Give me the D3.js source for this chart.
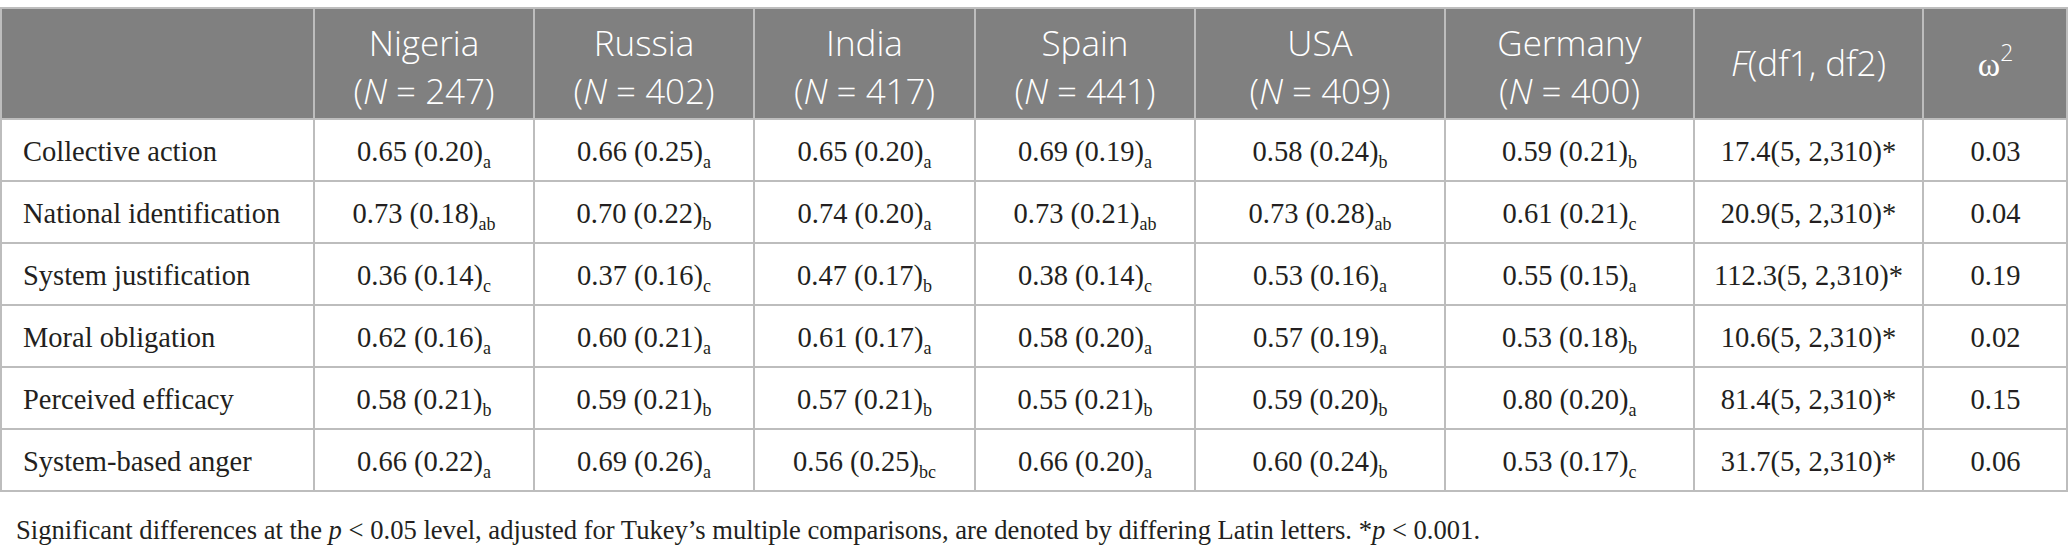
<!DOCTYPE html>
<html>
<head>
<meta charset="utf-8">
<script src="https://cdn.jsdelivr.net/npm/d3@7/dist/d3.min.js"></script>
<style>
  body { margin: 0; background: #fff; }
</style>
</head>
<body>
<div id="chart-area"></div>
<script>
// Table values
var measures = ['Collective action', 'National identification', 'System justification',
  'Moral obligation', 'Perceived efficacy', 'System-based anger'];
var countries = ['Nigeria', 'Russia', 'India', 'Spain', 'USA', 'Germany'];
var sampleSizes = [247, 402, 417, 441, 409, 400];

var means = [
  [0.65, 0.66, 0.65, 0.69, 0.58, 0.59],
  [0.73, 0.70, 0.74, 0.73, 0.73, 0.61],
  [0.36, 0.37, 0.47, 0.38, 0.53, 0.55],
  [0.62, 0.60, 0.61, 0.58, 0.57, 0.53],
  [0.58, 0.59, 0.57, 0.55, 0.59, 0.80],
  [0.66, 0.69, 0.56, 0.66, 0.60, 0.53]
];
var sds = [
  [0.20, 0.25, 0.20, 0.19, 0.24, 0.21],
  [0.18, 0.22, 0.20, 0.21, 0.28, 0.21],
  [0.14, 0.16, 0.17, 0.14, 0.16, 0.15],
  [0.16, 0.21, 0.17, 0.20, 0.19, 0.18],
  [0.21, 0.21, 0.21, 0.21, 0.20, 0.20],
  [0.22, 0.26, 0.25, 0.20, 0.24, 0.17]
];
var letters = [
  ['a', 'a', 'a', 'a', 'b', 'b'],
  ['ab', 'b', 'a', 'ab', 'ab', 'c'],
  ['c', 'c', 'b', 'c', 'a', 'a'],
  ['a', 'a', 'a', 'a', 'a', 'b'],
  ['b', 'b', 'b', 'b', 'b', 'a'],
  ['a', 'a', 'bc', 'a', 'b', 'c']
];
var fValues = [17.4, 20.9, 112.3, 10.6, 81.4, 31.7];
var dfLabel = '(5, 2,310)*';
var omegaSq = [0.03, 0.04, 0.19, 0.02, 0.15, 0.06];

// Layout
var width = 2069;
var height = 550;
var headerTop = 8;
var headerBottom = 119;
var tableBottom = 491;

var colKeys = ['label'].concat(countries, ['F', 'omega']);
var colWidths = [314, 220, 220, 221, 220, 250, 249, 229, 145];
var colStarts = [0].concat(Array.from(d3.cumsum(colWidths)).slice(0, -1));
var tableRight = d3.sum(colWidths);

var x = d3.scaleOrdinal().domain(colKeys).range(colStarts);
var w = d3.scaleOrdinal().domain(colKeys).range(colWidths);
function cx(k) { return x(k) + w(k) / 2; }

var y = d3.scaleBand()
  .domain(measures)
  .range([headerBottom, tableBottom]);

var f2 = d3.format('.2f');
var f1 = d3.format('.1f');

var serif = '"Liberation Serif", "Times New Roman", serif';
var sans = '"Open Sans", "Noto Sans", sans-serif';
var gridColor = '#bdbdbd';
var ink = '#231f20';

var svg = d3.select('#chart-area')
  .append('svg')
  .attr('width', width)
  .attr('height', height);

// Header background
svg.append('rect')
  .attr('x', 1)
  .attr('y', headerTop)
  .attr('width', tableRight - 1)
  .attr('height', headerBottom - headerTop)
  .attr('fill', '#808080');

// Horizontal lines
var hLines = [headerTop, headerBottom].concat(measures.map(function(m) {
  return y(m) + y.bandwidth();
}));
svg.selectAll('line.h')
  .data(hLines)
  .enter()
  .append('line')
    .attr('class', 'h')
    .attr('x1', 0)
    .attr('x2', tableRight)
    .attr('y1', function(d) { return d; })
    .attr('y2', function(d) { return d; })
    .attr('stroke', gridColor)
    .attr('stroke-width', 2);

// Vertical lines
var vLines = colStarts.slice(1).concat([tableRight - 1, 1]);
svg.selectAll('line.v')
  .data(vLines)
  .enter()
  .append('line')
    .attr('class', 'v')
    .attr('x1', function(d) { return d; })
    .attr('x2', function(d) { return d; })
    .attr('y1', headerTop)
    .attr('y2', tableBottom)
    .attr('stroke', gridColor)
    .attr('stroke-width', 2);

// Header: countries
var head = svg.append('g')
  .attr('font-family', sans)
  .attr('font-size', 35)
  .attr('font-weight', 350)
  .attr('fill', '#fff');

head.selectAll('text.country')
  .data(countries)
  .enter()
  .append('text')
    .attr('class', 'country')
    .attr('x', function(d) { return cx(d); })
    .attr('y', 56)
    .attr('text-anchor', 'middle')
    .text(function(d) { return d; });

var nText = head.selectAll('text.n')
  .data(countries)
  .enter()
  .append('text')
    .attr('class', 'n')
    .attr('x', function(d) { return cx(d); })
    .attr('y', 104)
    .attr('text-anchor', 'middle');
nText.append('tspan').text('(');
nText.append('tspan').attr('font-style', 'italic').text('N');
nText.append('tspan').text(function(d, i) { return ' = ' + sampleSizes[i] + ')'; });

var fHead = head.append('text')
  .attr('x', cx('F'))
  .attr('y', 76)
  .attr('text-anchor', 'middle');
fHead.append('tspan').attr('font-style', 'italic').text('F');
fHead.append('tspan').text('(df1, df2)');

var oHead = head.append('text')
  .attr('x', cx('omega'))
  .attr('y', 76)
  .attr('text-anchor', 'middle');
oHead.append('tspan').attr('font-family', serif).attr('font-size', 34).text('ω');
oHead.append('tspan').attr('font-size', 23).attr('dy', -15).text('2');

// Body
var body = svg.append('g')
  .attr('font-family', serif)
  .attr('font-size', 28.5)
  .attr('fill', ink);

var rows = body.selectAll('g.row')
  .data(measures)
  .enter()
  .append('g')
    .attr('class', 'row')
    .attr('transform', function(d) {
      return 'translate(0, ' + (y(d) + y.bandwidth() / 2 + 10.5) + ')';
    });

rows.append('text')
  .attr('x', 23)
  .text(function(d) { return d; });

rows.each(function(m, r) {
  var row = d3.select(this);
  var cells = row.selectAll('text.cell')
    .data(countries)
    .enter()
    .append('text')
      .attr('class', 'cell')
      .attr('x', function(c) { return cx(c); })
      .attr('text-anchor', 'middle');
  cells.append('tspan')
    .text(function(c, i) { return f2(means[r][i]) + ' (' + f2(sds[r][i]) + ')'; });
  cells.append('tspan')
    .attr('font-size', 18)
    .attr('dy', 7)
    .text(function(c, i) { return letters[r][i]; });

  row.append('text')
    .attr('x', cx('F'))
    .attr('text-anchor', 'middle')
    .text(f1(fValues[r]) + dfLabel);

  row.append('text')
    .attr('x', cx('omega'))
    .attr('text-anchor', 'middle')
    .text(f2(omegaSq[r]));
});

// Footnote
var note = svg.append('text')
  .attr('x', 16)
  .attr('y', 539)
  .attr('font-family', serif)
  .attr('font-size', 26.6)
  .attr('fill', ink);
note.append('tspan').text('Significant differences at the ');
note.append('tspan').attr('font-style', 'italic').text('p');
note.append('tspan').text(' < 0.05 level, adjusted for Tukey\u2019s multiple comparisons, are denoted by differing Latin letters. *');
note.append('tspan').attr('font-style', 'italic').text('p');
note.append('tspan').text(' < 0.001.');
</script>
</body>
</html>
